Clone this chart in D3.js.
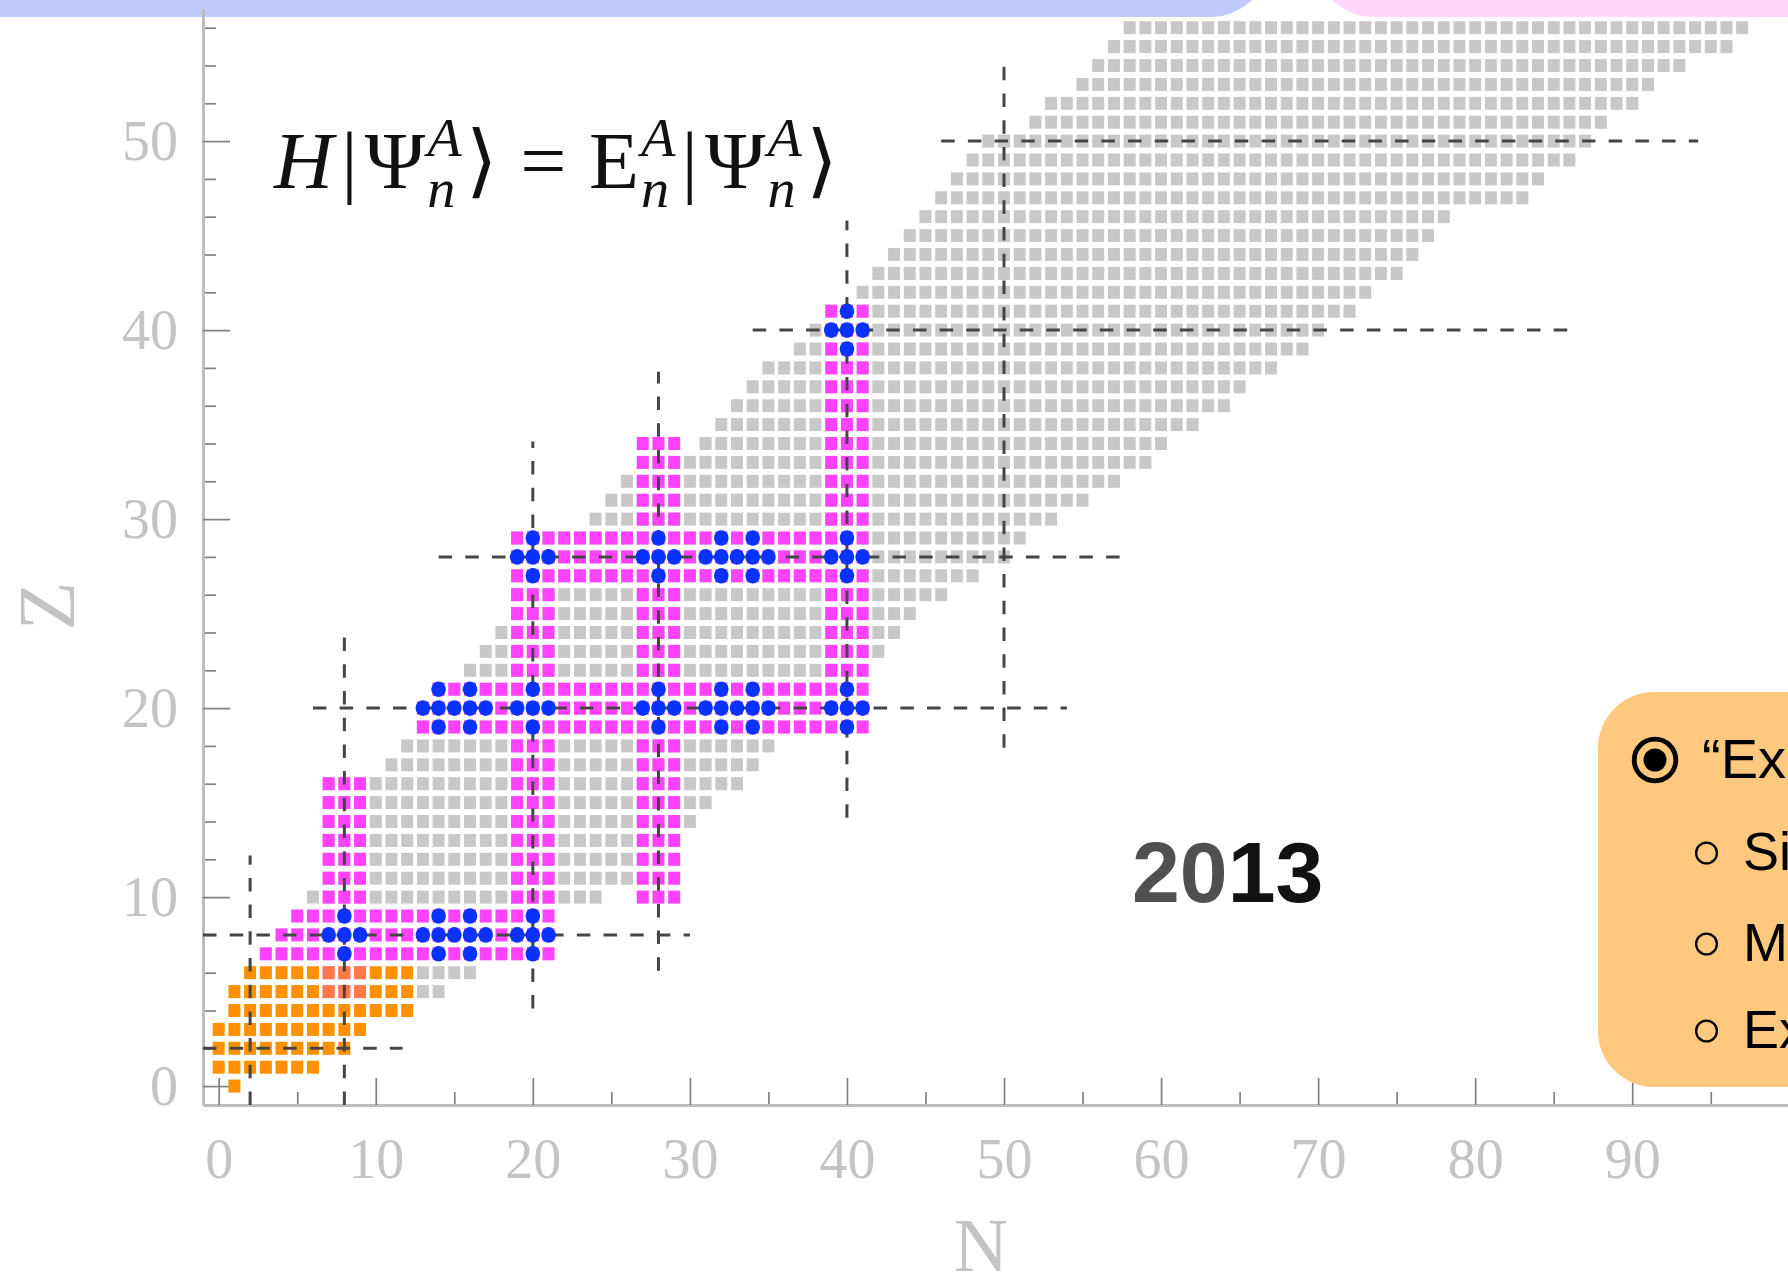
<!DOCTYPE html>
<html>
<head>
<meta charset="utf-8">
<title>Nuclear chart</title>
<script src="https://cdn.jsdelivr.net/npm/d3@7"></script>
<style>
  html, body { margin: 0; padding: 0; background: #ffffff; overflow: hidden; }
  svg { display: block; }
</style>
</head>
<body>
<svg id="chart" width="1788" height="1280"></svg>
<script>
// ---------------- data ----------------
// magic numbers and the extent of their dashed guide lines
const magicNumbers = [2, 8, 20, 28, 40, 50];
const isotoneLineZ = [[-1, 12.2], [-1, 23.8], [4.1, 34.1], [6.1, 37.8], [14.2, 45.8], [17.9, 54]]; // vertical, N = magic
const isotopeLineN = [[-1, 11.7], [-1, 30], [6, 54], [14, 57.5], [34, 86], [46, 94.2]];            // horizontal, Z = magic

// light nuclei [Z, Nmin, Nmax]
const lightNuclei = [[0, 1, 1], [1, 0, 6], [2, 0, 8], [3, 0, 9], [4, 1, 12], [5, 1, 12], [6, 2, 12]];

// nuclide chart rows [Z, Nmin, Nmax]
const chartRows = [
  [5, 13, 14], [6, 13, 16],
  [10, 6, 24], [11, 7, 26], [12, 7, 26], [13, 7, 26], [14, 7, 30], [15, 7, 31], [16, 7, 33],
  [17, 11, 34], [18, 12, 35], [19, 13, 36], [20, 13, 37], [21, 14, 38], [22, 16, 40],
  [23, 17, 42], [24, 18, 43], [25, 19, 44], [26, 19, 46], [27, 19, 48], [28, 19, 50],
  [29, 19, 51], [30, 24, 53], [31, 25, 55], [32, 26, 57], [33, 27, 59], [34, 31, 60],
  [35, 32, 62], [36, 33, 64], [37, 34, 65], [38, 35, 67], [39, 37, 69], [40, 38, 70],
  [41, 40, 72], [42, 41, 73], [43, 42, 75], [44, 43, 76], [45, 44, 77], [46, 45, 78],
  [47, 46, 83], [48, 47, 84], [49, 48, 86], [50, 49, 87], [51, 52, 88], [52, 53, 90],
  [53, 55, 91], [54, 56, 93], [55, 57, 96], [56, 58, 97]
];

// isotopic chains [Z, Nmin, Nmax]
const isotopeChains = [
  [7, 3, 21], [8, 4, 21], [9, 5, 21],
  [19, 13, 41], [20, 13, 41], [21, 14, 41],
  [27, 19, 41], [28, 19, 41], [29, 19, 41]
];
// isotonic chains [N, Zmin, Zmax]
const isotoneChains = [
  [7, 5, 16], [8, 5, 16], [9, 5, 16],
  [19, 7, 29], [20, 7, 29], [21, 7, 29],
  [27, 10, 34], [28, 10, 34], [29, 10, 34],
  [39, 19, 41], [40, 19, 41], [41, 19, 41]
];

// closed (sub)shell nuclei [N, Z]; each is shown with its four neighbours
const closedShell = [
  [8, 8], [14, 8], [16, 8], [20, 8],
  [14, 20], [16, 20], [20, 20], [28, 20], [32, 20], [34, 20], [40, 20],
  [20, 28], [28, 28], [32, 28], [34, 28], [40, 28],
  [40, 40]
];

const xTickValues = d3.range(0, 96, 5);
const xTickLabels = d3.range(0, 91, 10);
const yTickValues = d3.range(0, 57, 2);
const yTickLabels = d3.range(0, 51, 10);

const bulletLines = [
  { level: 0, text: "\u201CEx" },
  { level: 1, text: "Si" },
  { level: 1, text: "M" },
  { level: 1, text: "Ex" }
];

// ---------------- setup ----------------
const svg = d3.select("#chart");
const x = d3.scaleLinear().domain([-1, 100]).range([203, 1789.3]);
const y = d3.scaleLinear().domain([-1, 57]).range([1105, 8.8]);
const cellW = 12, cellH = 13;

const GREY = "#c8c8c8", MAGENTA = "#ff42ff", ORANGE = "#ff9000", BLUE = "#0a32ff";
const AXIS_GREY = "#c4c4c4";
const SERIF = "'Liberation Serif', 'DejaVu Serif', serif";
const SANS = "'Liberation Sans', Arial, sans-serif";

function fromRows(rows) {
  const out = [];
  rows.forEach(([z, a, b]) => { for (let n = a; n <= b; n++) out.push({ n, z }); });
  return out;
}
function fromCols(cols) {
  const out = [];
  cols.forEach(([n, a, b]) => { for (let z = a; z <= b; z++) out.push({ n, z }); });
  return out;
}
const key = d => d.n + "," + d.z;

const chartCells = fromRows(chartRows);
const magentaMap = new Map();
fromRows(isotopeChains).concat(fromCols(isotoneChains)).forEach(d => magentaMap.set(key(d), d));
const magentaCells = Array.from(magentaMap.values());
const lightCells = fromRows(lightNuclei);

const blueMap = new Map();
closedShell.forEach(([n, z]) => {
  [[0, 0], [1, 0], [-1, 0], [0, 1], [0, -1]].forEach(([dn, dz]) => {
    const d = { n: n + dn, z: z + dz };
    blueMap.set(key(d), d);
  });
});
const blueCells = Array.from(blueMap.values());

// ---------------- top banners ----------------
svg.append("rect").attr("x", -120).attr("y", -120).attr("width", 1390).attr("height", 137)
  .attr("rx", 60).attr("fill", "#bfcbff");
svg.append("rect").attr("x", 1314).attr("y", -120).attr("width", 700).attr("height", 137)
  .attr("rx", 60).attr("fill", "#ffd6fc");

// ---------------- axes ----------------
function styleAxis(g) {
  g.selectAll(".domain").attr("stroke", "#bdbdbd").attr("stroke-width", 3);
  g.selectAll(".tick line").attr("stroke", "#808080").attr("stroke-width", 1.7);
  g.selectAll(".tick text").attr("fill", AXIS_GREY).attr("font-family", SERIF).attr("font-size", 56);
}

const gxMinor = svg.append("g").attr("transform", `translate(0,${y(-1)})`)
  .call(d3.axisBottom(x).tickValues(xTickValues.filter(v => v % 10 !== 0)).tickSize(-13).tickSizeOuter(0).tickFormat(""));
gxMinor.select(".domain").remove();
const gx = svg.append("g").attr("transform", `translate(0,${y(-1)})`)
  .call(d3.axisBottom(x).tickValues(xTickLabels).tickSize(-27).tickSizeOuter(0).tickPadding(33).tickFormat(d3.format("d")));
styleAxis(gxMinor); styleAxis(gx);

const gyMinor = svg.append("g").attr("transform", `translate(${x(-1)},0)`)
  .call(d3.axisLeft(y).tickValues(yTickValues.filter(v => v % 10 !== 0)).tickSize(-13).tickSizeOuter(0).tickFormat(""));
gyMinor.select(".domain").remove();
const gy = svg.append("g").attr("transform", `translate(${x(-1)},0)`)
  .call(d3.axisLeft(y).tickValues(yTickLabels).tickSize(-27).tickSizeOuter(0).tickPadding(25).tickFormat(d3.format("d")));
styleAxis(gyMinor); styleAxis(gy);

svg.append("text").text("N")
  .attr("x", 981).attr("y", 1271).attr("text-anchor", "middle")
  .attr("font-family", SERIF).attr("font-size", 76).attr("fill", AXIS_GREY);
svg.append("text").text("Z")
  .attr("transform", "translate(74,606) rotate(-90)").attr("text-anchor", "middle")
  .attr("font-family", SERIF).attr("font-size", 80).attr("fill", AXIS_GREY);

// ---------------- nuclide cells ----------------
const cells = svg.append("g").attr("class", "cells");
function drawSquares(data, fill, cls, opacityFn) {
  cells.append("g").attr("class", cls).selectAll("rect").data(data).join("rect")
    .attr("x", d => x(d.n) - cellW / 2)
    .attr("y", d => y(d.z) - cellH / 2)
    .attr("width", cellW).attr("height", cellH)
    .attr("fill", fill)
    .attr("fill-opacity", opacityFn || 1);
}
drawSquares(chartCells, GREY, "chart");
drawSquares(magentaCells, MAGENTA, "chains");
drawSquares(lightCells, ORANGE, "light", d => magentaMap.has(key(d)) ? 0.72 : 1);

// ---------------- magic-number guide lines ----------------
const guides = svg.append("g").attr("class", "guides")
  .attr("stroke", "#454545").attr("stroke-width", 3).attr("stroke-dasharray", "13.5,13.2").attr("fill", "none");
guides.selectAll("line.isotone").data(magicNumbers).join("line").attr("class", "isotone")
  .attr("x1", d => x(d)).attr("x2", d => x(d))
  .attr("y1", (d, i) => y(isotoneLineZ[i][0])).attr("y2", (d, i) => y(isotoneLineZ[i][1]));
guides.selectAll("line.isotope").data(magicNumbers).join("line").attr("class", "isotope")
  .attr("y1", d => y(d)).attr("y2", d => y(d))
  .attr("x1", (d, i) => x(isotopeLineN[i][0])).attr("x2", (d, i) => x(isotopeLineN[i][1]));

// ---------------- closed-shell markers ----------------
svg.append("g").attr("class", "closed").selectAll("ellipse").data(blueCells).join("ellipse")
  .attr("cx", d => x(d.n)).attr("cy", d => y(d.z))
  .attr("rx", 7.3).attr("ry", 7.8).attr("fill", BLUE);

// ---------------- equation (one text element, laid out glyph by glyph) ----------------
(function drawEquation() {
  const g = svg.append("g").attr("class", "equation");
  const eq = g.append("text").attr("fill", "#111").attr("font-family", SERIF).attr("font-size", 80);
  const base = 188, small = 55;
  let cx = 0;
  function span(t, opt) {
    const s = eq.append("tspan").text(t).attr("x", cx).attr("y", opt.y || base)
      .attr("font-style", opt.italic ? "italic" : "normal");
    if (opt.size) s.attr("font-size", opt.size);
    return s.node().getComputedTextLength();
  }
  function piece(t, gap, italic) { cx += span(t, { italic }) + gap; }
  function scripts(gap) {
    const wa = span("A", { y: 156, size: small, italic: true });
    const wn = span("n", { y: 207, size: small, italic: true });
    cx += Math.max(wa, wn) + gap;
  }
  piece("H", 8, true);
  piece("|", 7);
  piece("\u03A8", 2);
  scripts(4);
  piece("\u27E9", 22);
  piece("=", 22);
  piece("E", 2);
  scripts(6);
  piece("|", 7);
  piece("\u03A8", 2);
  scripts(4);
  const total = cx + span("\u27E9", {});
  const k = (838 - 274) / total;
  g.attr("transform", `translate(274,0) scale(${k},1)`);
})();

// ---------------- year ----------------
const year = svg.append("text").attr("x", 1132).attr("y", 902)
  .attr("font-family", SANS).attr("font-weight", "bold").attr("font-size", 86);
year.append("tspan").text("20").attr("fill", "#505050");
year.append("tspan").text("13").attr("fill", "#111111");

// ---------------- side box ----------------
const box = svg.append("g").attr("class", "note");
box.append("rect").attr("x", 1598).attr("y", 692).attr("width", 400).attr("height", 395)
  .attr("rx", 56).attr("fill", "#ffc87f");
const lineY = [760, 853, 944, 1031];
bulletLines.forEach((l, i) => {
  const cy = lineY[i];
  if (l.level === 0) {
    box.append("circle").attr("cx", 1655).attr("cy", cy).attr("r", 20.8)
      .attr("fill", "none").attr("stroke", "#000").attr("stroke-width", 4.8);
    box.append("circle").attr("cx", 1655).attr("cy", cy).attr("r", 11.5).attr("fill", "#000");
    box.append("text").text(l.text).attr("x", 1702).attr("y", cy + 18)
      .attr("font-family", SANS).attr("font-size", 56).attr("fill", "#000");
  } else {
    box.append("circle").attr("cx", 1706.5).attr("cy", cy).attr("r", 10.4)
      .attr("fill", "none").attr("stroke", "#000").attr("stroke-width", 2.3);
    box.append("text").text(l.text).attr("x", 1743).attr("y", cy + 17)
      .attr("font-family", SANS).attr("font-size", 54).attr("fill", "#000");
  }
});
</script>
</body>
</html>
